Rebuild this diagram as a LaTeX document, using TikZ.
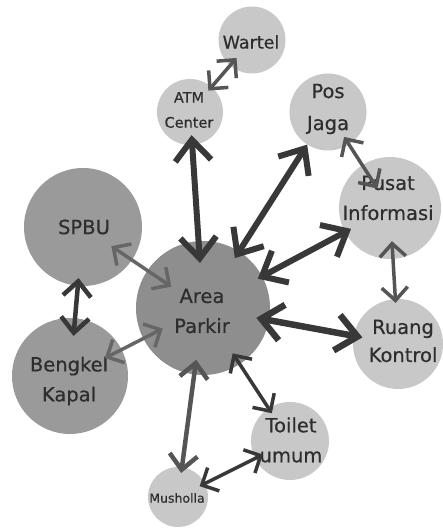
\documentclass[tikz,border=0pt]{standalone}
\usepackage{fontspec}
\setmainfont{DejaVu Sans}
\newfontfamily\labelfont{DejaVu Sans}[FakeBold=0.5]
\usetikzlibrary{arrows.meta}

\definecolor{hubfill}{HTML}{8E8E8E}
\definecolor{darkfill}{HTML}{9A9A9A}
\definecolor{lightfill}{HTML}{C8C8C8}
\definecolor{labeltext}{HTML}{2E2E2E}
\definecolor{linkdark}{HTML}{383838}
\definecolor{linkmid}{HTML}{555555}
\definecolor{linklight}{HTML}{666666}

\tikzset{
  place/.style={circle, inner sep=0pt, minimum size=#1},
  hub/.style={place=#1, fill=hubfill},
  bigplace/.style={place=#1, fill=darkfill},
  smallplace/.style={place=#1, fill=lightfill},
  caption/.style={align=center, inner sep=0pt, text=labeltext,
    font=\labelfont\fontsize{19.5}{30}\selectfont},
  heavylink/.style={line width=6pt, draw=linkdark,
    {Straight Barb[length=21pt,width=36pt]}-{Straight Barb[length=21pt,width=36pt]}},
  midlink/.style={line width=4.5pt,
    {Straight Barb[length=15pt,width=28pt]}-{Straight Barb[length=15pt,width=28pt]}},
  thinlink/.style={line width=3.5pt,
    {Straight Barb[length=13pt,width=26pt]}-{Straight Barb[length=13pt,width=26pt]}},
}

\begin{document}
\begin{tikzpicture}[x=1pt,y=-1pt]
  \useasboundingbox (0,0) rectangle (443,529);

  % places
  \node[hub=134pt]        (area)    at (203,308) {};
  \node[bigplace=118pt]   (spbu)    at (83,227)  {};
  \node[bigplace=116pt]   (bengkel) at (70,376)  {};
  \node[smallplace=67pt]  (wartel)  at (252,40)  {};
  \node[smallplace=66pt]  (atm)     at (190,112) {};
  \node[smallplace=77pt]  (pos)     at (328,112) {};
  \node[smallplace=102pt] (pusat)   at (390,208) {};
  \node[smallplace=90pt]  (ruang)   at (398,344) {};
  \node[smallplace=78pt]  (toilet)  at (290,441) {};
  \node[smallplace=60pt]  (mushola) at (178,497) {};

  % place names
  \node[caption] (area-t)    at (202,311) {Area\\Parkir};
  \node[caption] (spbu-t)    at (84,227)  {SPBU};
  \node[caption] (bengkel-t) at (69,381)  {Bengkel\\Kapal};
  \node[caption, font=\labelfont\fontsize{17.5}{24}\selectfont]
                 (wartel-t)  at (251,42)  {Wartel};
  \node[caption, font=\labelfont\fontsize{14.5}{25}\selectfont]
                 (atm-t)     at (189,110) {ATM\\Center};
  \node[caption, font=\labelfont\fontsize{19.5}{32}\selectfont]
                 (pos-t)     at (328,109) {Pos\\Jaga};
  \node[caption] (pusat-t)   at (388,198) {Pusat\\Informasi};
  \node[caption, font=\labelfont\fontsize{19.5}{28}\selectfont]
                 (ruang-t)   at (403,341) {Ruang\\Kontrol};
  \node[caption] (toilet-t)  at (291,440) {Toilet\\umum};
  \node[caption, font=\labelfont\fontsize{12.5}{14}\selectfont]
                 (mushola-t) at (177,498) {Musholla};

  % two-way links
  \draw[thinlink, draw=linkmid, shorten <=-5pt, shorten >=-10pt] (atm) -- (wartel);
  \draw[heavylink, shorten <=-10pt, shorten >=-22pt] (atm) -- (area);
  \draw[heavylink, shorten <=0pt, shorten >=-8pt] (pos) -- (area);
  \draw[heavylink, shorten <=-5pt, shorten >=-7pt] (area) -- (pusat);
  \draw[heavylink, line width=6.5pt, shorten <=-13pt, shorten >=-9pt] (area) -- (ruang);
  \draw[thinlink, draw=linkmid, shorten <=-18pt, shorten >=-4pt] (pusat) -- (ruang);
  \draw[thinlink, draw=linkmid, shorten <=-9pt, shorten >=-28pt] (pos) -- (pusat);
  \draw[thinlink, draw=linklight, shorten <=-25pt, shorten >=-29pt] (spbu) -- (area);
  \draw[midlink, draw=linkdark, shorten <=-8pt, shorten >=-18pt] (spbu) -- (bengkel);
  \draw[thinlink, draw=linklight, shorten <=-19pt, shorten >=-22pt] (bengkel) -- (area);
  \draw[thinlink, draw=linkdark, shorten <=-13pt, shorten >=-6pt] (area) -- (toilet);
  \draw[midlink, draw=linkmid, shorten <=-15pt, shorten >=-6pt] (area) -- (mushola);
  \draw[thinlink, draw=linkdark, shorten <=-6pt, shorten >=-9pt] (mushola) -- (toilet);
\end{tikzpicture}
\end{document}
